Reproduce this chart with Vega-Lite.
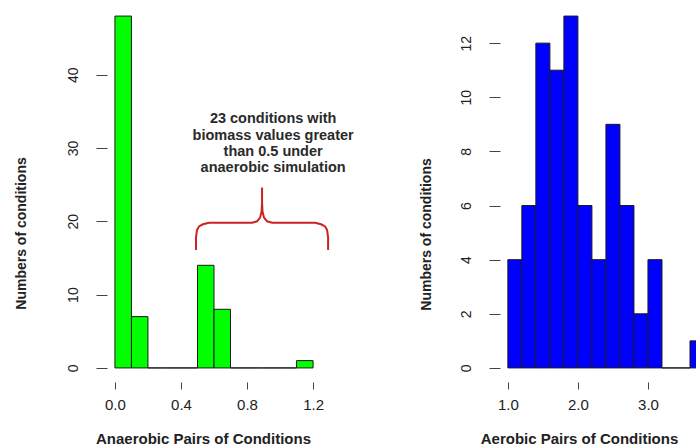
{
  "$schema": "https://vega.github.io/schema/vega-lite/v6.json",
  "background": "white",
  "padding": {"left": 14, "top": 2, "right": 0, "bottom": 0},
  "config": {
    "view": {"stroke": null},
    "font": "Liberation Sans",
    "axis": {
      "grid": false,
      "domain": false,
      "labelFont": "Liberation Sans",
      "labelFontSize": 15,
      "labelColor": "#222222",
      "tickColor": "#444444",
      "tickWidth": 1,
      "titleFont": "Liberation Sans",
      "titleFontSize": 14,
      "titleFontWeight": "bold",
      "titleColor": "#222222"
    }
  },
  "datasets": {
    "anaerobic": [
      {"bin_start": 0.0, "bin_end": 0.1, "count": 48},
      {"bin_start": 0.1, "bin_end": 0.2, "count": 7},
      {"bin_start": 0.2, "bin_end": 0.3, "count": 0},
      {"bin_start": 0.3, "bin_end": 0.4, "count": 0},
      {"bin_start": 0.4, "bin_end": 0.5, "count": 0},
      {"bin_start": 0.5, "bin_end": 0.6, "count": 14},
      {"bin_start": 0.6, "bin_end": 0.7, "count": 8},
      {"bin_start": 0.7, "bin_end": 0.8, "count": 0},
      {"bin_start": 0.8, "bin_end": 0.9, "count": 0},
      {"bin_start": 0.9, "bin_end": 1.0, "count": 0},
      {"bin_start": 1.0, "bin_end": 1.1, "count": 0},
      {"bin_start": 1.1, "bin_end": 1.2, "count": 1}
    ],
    "aerobic": [
      {"bin_start": 1.0, "bin_end": 1.2, "count": 4},
      {"bin_start": 1.2, "bin_end": 1.4, "count": 6},
      {"bin_start": 1.4, "bin_end": 1.6, "count": 12},
      {"bin_start": 1.6, "bin_end": 1.8, "count": 11},
      {"bin_start": 1.8, "bin_end": 2.0, "count": 13},
      {"bin_start": 2.0, "bin_end": 2.2, "count": 6},
      {"bin_start": 2.2, "bin_end": 2.4, "count": 4},
      {"bin_start": 2.4, "bin_end": 2.6, "count": 9},
      {"bin_start": 2.6, "bin_end": 2.8, "count": 6},
      {"bin_start": 2.8, "bin_end": 3.0, "count": 2},
      {"bin_start": 3.0, "bin_end": 3.2, "count": 4},
      {"bin_start": 3.2, "bin_end": 3.4, "count": 0},
      {"bin_start": 3.4, "bin_end": 3.6, "count": 0},
      {"bin_start": 3.6, "bin_end": 3.8, "count": 1}
    ],
    "brace": [
      {"i": 1, "bx": 0.491, "by": 16.1},
      {"i": 2, "bx": 0.491, "by": 17.8},
      {"i": 3, "bx": 0.497, "by": 18.8},
      {"i": 4, "bx": 0.509, "by": 19.3},
      {"i": 5, "bx": 0.533, "by": 19.6},
      {"i": 6, "bx": 0.570, "by": 19.8},
      {"i": 7, "bx": 0.830, "by": 19.8},
      {"i": 8, "bx": 0.861, "by": 20.0},
      {"i": 9, "bx": 0.879, "by": 20.5},
      {"i": 10, "bx": 0.888, "by": 21.3},
      {"i": 11, "bx": 0.891, "by": 22.6},
      {"i": 12, "bx": 0.891, "by": 24.6},
      {"i": 13, "bx": 0.891, "by": 22.6},
      {"i": 14, "bx": 0.894, "by": 21.3},
      {"i": 15, "bx": 0.903, "by": 20.5},
      {"i": 16, "bx": 0.921, "by": 20.0},
      {"i": 17, "bx": 0.952, "by": 19.8},
      {"i": 18, "bx": 1.212, "by": 19.8},
      {"i": 19, "bx": 1.248, "by": 19.6},
      {"i": 20, "bx": 1.273, "by": 19.3},
      {"i": 21, "bx": 1.285, "by": 18.8},
      {"i": 22, "bx": 1.291, "by": 17.8},
      {"i": 23, "bx": 1.291, "by": 16.1}
    ],
    "note": [
      {"nx": 0.958, "ny": 33.9, "label": "23 conditions with\nbiomass values greater\nthan 0.5 under\nanaerobic simulation"}
    ]
  },
  "bounds": "flush",
  "spacing": 179,
  "hconcat": [
    {
      "width": 214,
      "height": 380,
      "layer": [
        {
          "data": {"name": "anaerobic"},
          "mark": {"type": "bar", "fill": "#00ff00", "stroke": "#1a1a1a", "strokeWidth": 1},
          "encoding": {
            "x": {
              "field": "bin_start", "type": "quantitative",
              "title": "Anaerobic Pairs of Conditions",
              "scale": {"domain": [-0.048, 1.248], "nice": false, "zero": false},
              "axis": {
                "values": [0, 0.2, 0.4, 0.6, 0.8, 1.0, 1.2],
                "labelExpr": "round(datum.value * 10) % 4 == 0 ? format(datum.value, '.1f') : ''",
                "tickSize": 7, "labelPadding": 8, "labelFlush": false, "labelOverlap": false,
                "titleFontSize": 15,
                "titleX": 96, "titleY": 56, "titleBaseline": "middle", "titleAlign": "center"
              }
            },
            "x2": {"field": "bin_end"},
            "y": {
              "field": "count", "type": "quantitative",
              "title": "Numbers of conditions",
              "scale": {"domain": [-1.92, 49.92], "nice": false, "zero": false},
              "axis": {
                "values": [0, 10, 20, 30, 40],
                "labelAngle": -90, "labelFontSize": 14, "tickSize": 11, "labelPadding": 16,
                "titleX": -86, "titleY": 231, "titleBaseline": "middle", "titleAlign": "center", "titleAngle": -90
              }
            },
            "y2": {"datum": 0}
          }
        },
        {
          "mark": {"type": "rule", "color": "#444444", "strokeWidth": 1},
          "encoding": {
            "x": {"datum": -0.048, "type": "quantitative"},
            "y": {"datum": 0, "type": "quantitative"},
            "y2": {"datum": 40}
          }
        },
        {
          "mark": {"type": "rule", "color": "#444444", "strokeWidth": 1},
          "encoding": {
            "x": {"datum": 0, "type": "quantitative"},
            "x2": {"datum": 1.2},
            "y": {"datum": -1.92, "type": "quantitative"}
          }
        },
        {
          "data": {"name": "brace"},
          "mark": {"type": "line", "color": "#cc2222", "strokeWidth": 2, "interpolate": "linear"},
          "encoding": {
            "x": {"field": "bx", "type": "quantitative"},
            "y": {"field": "by", "type": "quantitative"},
            "order": {"field": "i", "type": "quantitative"}
          }
        },
        {
          "data": {"name": "note"},
          "mark": {"type": "text", "font": "Liberation Sans", "fontSize": 14.5, "fontWeight": "bold", "color": "#2a2a2a", "align": "center", "baseline": "middle", "lineBreak": "\n", "lineHeight": 16.3},
          "encoding": {
            "x": {"field": "nx", "type": "quantitative"},
            "y": {"field": "ny", "type": "quantitative"},
            "text": {"field": "label"}
          }
        }
      ]
    },
    {
      "width": 197,
      "height": 380,
      "layer": [
        {
          "data": {"name": "aerobic"},
          "mark": {"type": "bar", "fill": "#0000ff", "stroke": "#1a1a1a", "strokeWidth": 1, "clip": true},
          "encoding": {
            "x": {
              "field": "bin_start", "type": "quantitative",
              "title": "Aerobic Pairs of Conditions",
              "scale": {"domain": [0.888, 3.7], "nice": false, "zero": false},
              "axis": {
                "values": [1.0, 1.5, 2.0, 2.5, 3.0, 3.5],
                "labelExpr": "round(datum.value * 10) % 10 == 0 ? format(datum.value, '.1f') : ''",
                "tickSize": 7, "labelPadding": 8, "labelFlush": false, "labelOverlap": false,
                "titleFontSize": 15,
                "titleX": 79, "titleY": 56, "titleBaseline": "middle", "titleAlign": "center"
              }
            },
            "x2": {"field": "bin_end"},
            "y": {
              "field": "count", "type": "quantitative",
              "title": "Numbers of conditions",
              "scale": {"domain": [-0.52, 13.52], "nice": false, "zero": false},
              "axis": {
                "values": [0, 2, 4, 6, 8, 10, 12],
                "labelAngle": -90, "labelFontSize": 14, "tickSize": 11, "labelPadding": 16,
                "titleX": -74, "titleY": 232, "titleBaseline": "middle", "titleAlign": "center", "titleAngle": -90
              }
            },
            "y2": {"datum": 0}
          }
        },
        {
          "mark": {"type": "rule", "color": "#444444", "strokeWidth": 1},
          "encoding": {
            "x": {"datum": 0.888, "type": "quantitative"},
            "y": {"datum": 0, "type": "quantitative"},
            "y2": {"datum": 12}
          }
        },
        {
          "mark": {"type": "rule", "color": "#444444", "strokeWidth": 1},
          "encoding": {
            "x": {"datum": 1.0, "type": "quantitative"},
            "x2": {"datum": 3.5},
            "y": {"datum": -0.52, "type": "quantitative"}
          }
        }
      ]
    }
  ]
}
